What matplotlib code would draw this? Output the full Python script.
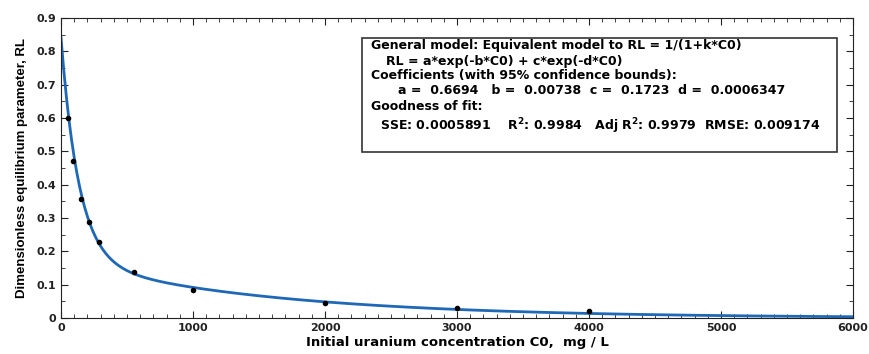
import numpy as np
import matplotlib
matplotlib.use("Agg")
import matplotlib.pyplot as plt
from matplotlib.patches import Rectangle
from matplotlib.ticker import MultipleLocator

# Experimental points
c0 = [53, 92, 150, 210, 290, 555, 1000, 2000, 3000, 4000]
rl = [0.60, 0.47, 0.357, 0.287, 0.228, 0.138, 0.083, 0.045, 0.030, 0.022]

# Fitted coefficients shown in the box
a, b, c, d = 0.6694, 0.00738, 0.1723, 0.0006347

box_lines = [
    "General model: Equivalent model to RL = 1/(1+k*C0)",
    "RL = a*exp(-b*C0) + c*exp(-d*C0)",
    "Coefficients (with 95% confidence bounds):",
    "a =  0.6694   b =  0.00738  c =  0.1723  d =  0.0006347",
    "Goodness of fit:",
    "SSE: 0.0005891    R$^\\mathbf{2}$: 0.9984   Adj R$^\\mathbf{2}$: 0.9979  RMSE: 0.009174",
]
box_x = [371, 386, 371, 398, 371, 380]
box_y = [46, 61, 76, 91, 107, 126]

plt.rcParams["font.family"] = ["DejaVu Sans"]
plt.rcParams["mathtext.fontset"] = "dejavusans"

W, H = 869, 354
fig = plt.figure(figsize=(W / 100, H / 100), dpi=100)
ax = fig.add_axes([61 / W, 1 - 318 / H, 792 / W, 300 / H])

xs = np.linspace(0, 6000, 600)
ys = a * np.exp(-b * xs) + c * np.exp(-d * xs)
ax.plot(xs, ys, color="#1f68b5", lw=2)
ax.scatter(c0, rl, s=9, color="black", zorder=3)

ax.set_xlim(0, 6000)
ax.set_ylim(0, 0.9)
ax.xaxis.set_major_locator(MultipleLocator(1000))
ax.xaxis.set_minor_locator(MultipleLocator(100))
ax.yaxis.set_major_locator(MultipleLocator(0.1))
ax.yaxis.set_minor_locator(MultipleLocator(0.05))
ax.yaxis.set_major_formatter(plt.FuncFormatter(lambda v, p: "0" if v == 0 else f"{v:.1f}"))
ax.tick_params(which="both", direction="in", top=True, right=True, colors="#222222")
ax.tick_params(which="major", length=5, labelsize=8)
ax.tick_params(which="minor", length=3)
for lab in ax.get_xticklabels() + ax.get_yticklabels():
    lab.set_fontweight("bold")
for s in ax.spines.values():
    s.set_color("#222222")

ax.set_xlabel("Initial uranium concentration C0,  mg / L", fontsize=9.5,
              fontweight="bold", labelpad=2)
ax.set_ylabel("Dimensionless equilibrium parameter, RL", fontsize=9.5,
              fontweight="bold", family="Liberation Sans", labelpad=6)

# annotation box
fig.patches.append(Rectangle((362 / W, 1 - 152 / H), 475 / W, 114 / H,
                             transform=fig.transFigure, facecolor="white",
                             edgecolor="#333333", lw=1.2, zorder=5))
for txt, px, py in zip(box_lines, box_x, box_y):
    fig.text(px / W, 1 - py / H, txt, fontsize=9, fontweight="bold",
             va="center", ha="left", zorder=6)

fig.savefig("out.png", dpi=100)
